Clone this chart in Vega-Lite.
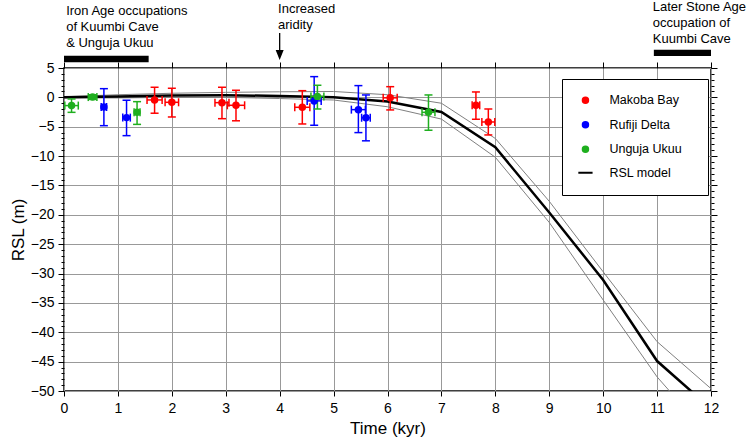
{
  "$schema": "https://vega.github.io/schema/vega-lite/v6.json",
  "width": 647,
  "height": 323,
  "autosize": {"type": "none"},
  "padding": {"left": 64, "top": 68, "right": 39, "bottom": 51},
  "background": "white",
  "config": {
    "view": {"stroke": "black", "strokeWidth": 1.5},
    "font": "Liberation Sans",
    "axis": {
      "labelFont": "Liberation Sans",
      "titleFont": "Liberation Sans",
      "labelColor": "black",
      "titleColor": "black",
      "tickColor": "black",
      "tickWidth": 1,
      "domain": false,
      "labelFontSize": 14,
      "titleFontSize": 17,
      "titleFontWeight": "normal",
      "gridColor": "#999999",
      "gridWidth": 1,
      "format": "d",
      "tickCount": 100
    }
  },
  "datasets": {
    "obs": [
      {"site": "Makoba Bay", "t": 1.68, "y": -0.44, "tlo": 1.54, "thi": 1.82, "ylo": -2.7, "yhi": 1.72},
      {"site": "Makoba Bay", "t": 2.0, "y": -0.84, "tlo": 1.875, "thi": 2.125, "ylo": -3.34, "yhi": 1.55},
      {"site": "Makoba Bay", "t": 2.93, "y": -0.9, "tlo": 2.8, "thi": 3.06, "ylo": -3.63, "yhi": 1.72},
      {"site": "Makoba Bay", "t": 3.19, "y": -1.35, "tlo": 3.03, "thi": 3.35, "ylo": -3.99, "yhi": 1.21},
      {"site": "Makoba Bay", "t": 4.42, "y": -1.69, "tlo": 4.28, "thi": 4.56, "ylo": -4.53, "yhi": 1.14},
      {"site": "Makoba Bay", "t": 6.05, "y": -0.08, "tlo": 5.92, "thi": 6.18, "ylo": -2.14, "yhi": 1.82},
      {"site": "Makoba Bay", "t": 7.64, "y": -1.35, "tlo": 7.57, "thi": 7.71, "ylo": -3.73, "yhi": 0.92},
      {"site": "Makoba Bay", "t": 7.87, "y": -4.19, "tlo": 7.75, "thi": 7.99, "ylo": -6.4, "yhi": -1.98},
      {"site": "Rufiji Delta", "t": 0.74, "y": -1.64, "tlo": 0.69, "thi": 0.79, "ylo": -4.82, "yhi": 1.48},
      {"site": "Rufiji Delta", "t": 1.16, "y": -3.45, "tlo": 1.09, "thi": 1.23, "ylo": -6.52, "yhi": -0.49},
      {"site": "Rufiji Delta", "t": 4.64, "y": -0.6, "tlo": 4.51, "thi": 4.77, "ylo": -4.75, "yhi": 3.53},
      {"site": "Rufiji Delta", "t": 5.46, "y": -2.09, "tlo": 5.33, "thi": 5.59, "ylo": -6.0, "yhi": 2.0},
      {"site": "Rufiji Delta", "t": 5.6, "y": -3.47, "tlo": 5.52, "thi": 5.68, "ylo": -7.4, "yhi": 0.41},
      {"site": "Unguja Ukuu", "t": 0.14, "y": -1.4, "tlo": 0.015, "thi": 0.265, "ylo": -2.55, "yhi": -0.27},
      {"site": "Unguja Ukuu", "t": 0.53, "y": 0.05, "tlo": 0.45, "thi": 0.61, "ylo": -0.35, "yhi": 0.45},
      {"site": "Unguja Ukuu", "t": 1.355, "y": -2.55, "tlo": 1.3, "thi": 1.41, "ylo": -4.6, "yhi": -0.73},
      {"site": "Unguja Ukuu", "t": 4.7, "y": 0.15, "tlo": 4.58, "thi": 4.82, "ylo": -1.98, "yhi": 2.06},
      {"site": "Unguja Ukuu", "t": 6.76, "y": -2.55, "tlo": 6.64, "thi": 6.88, "ylo": -5.6, "yhi": 0.41}
    ],
    "rsl": [
      {"t": 0, "model": 0.0, "upper": 0.1, "lower": -0.1},
      {"t": 1, "model": 0.15, "upper": 0.45, "lower": -0.1},
      {"t": 2, "model": 0.3, "upper": 0.7, "lower": 0.0},
      {"t": 3, "model": 0.35, "upper": 0.85, "lower": 0.0},
      {"t": 4, "model": 0.25, "upper": 0.95, "lower": -0.2},
      {"t": 5, "model": 0.0, "upper": 1.0, "lower": -0.45},
      {"t": 6, "model": -0.7, "upper": 0.45, "lower": -1.6},
      {"t": 7, "model": -2.5, "upper": -1.0, "lower": -3.7},
      {"t": 8, "model": -8.5, "upper": -7.0, "lower": -10.2},
      {"t": 9, "model": -19.6, "upper": -17.7, "lower": -21.3},
      {"t": 10, "model": -31.1, "upper": -29.7, "lower": -34.5},
      {"t": 11, "model": -44.9, "upper": -41.6, "lower": -47.6},
      {"t": 12, "model": -53.0, "upper": -49.6, "lower": -58.0}
    ],
    "bars": [
      {"t1": 0, "t2": 1.57, "yb": 6.53},
      {"t1": 10.94, "t2": 12, "yb": 7.56}
    ],
    "arrow": [
      {"t": 4, "y1": 10.96, "y2": 7.73, "yh": 7.21}
    ],
    "notes": [
      {"t": 0.04, "y": 14.1, "label": "Iron Age occupations\nof Kuumbi Cave\n& Unguja Ukuu"},
      {"t": 3.97, "y": 14.42, "label": "Increased\naridity"},
      {"t": 10.92, "y": 14.76, "label": "Later Stone Age\noccupation of\nKuumbi Cave"}
    ]
  },
  "layer": [
    {
      "layer": [
        {
          "data": {"name": "rsl"},
          "mark": {"type": "line", "color": "#808080", "strokeWidth": 1, "clip": true},
          "encoding": {
            "x": {
              "field": "t", "type": "quantitative",
              "scale": {"domain": [0, 12], "nice": false, "zero": false},
              "axis": {
                "orient": "top",
                "values": [0, 1, 2, 3, 4, 5, 6, 7, 8, 9, 10, 11, 12],
                "tickCount": 100,
                "labels": false,
                "grid": false,
                "tickSize": 6,
                "title": null
              }
            },
            "y": {
              "field": "upper", "type": "quantitative",
              "scale": {"domain": [-50, 5], "nice": false, "zero": false},
              "axis": {
                "orient": "right",
                "values": [5, 0, -5, -10, -15, -20, -25, -30, -35, -40, -45, -50],
                "tickCount": 100,
                "labels": false,
                "grid": false,
                "tickSize": 6,
                "title": null
              }
            }
          }
        },
        {
          "data": {"name": "rsl"},
          "mark": {"type": "line", "color": "#808080", "strokeWidth": 1, "clip": true},
          "encoding": {
            "x": {"field": "t", "type": "quantitative"},
            "y": {"field": "lower", "type": "quantitative"}
          }
        },
        {
          "data": {"name": "rsl"},
          "mark": {"type": "line", "color": "#000000", "strokeWidth": 2.5, "clip": true},
          "encoding": {
            "x": {"field": "t", "type": "quantitative"},
            "y": {"field": "model", "type": "quantitative"}
          }
        },
        {
          "data": {"name": "bars"},
          "mark": {"type": "rule", "color": "black", "strokeWidth": 6.3, "strokeCap": "butt"},
          "encoding": {
            "x": {"field": "t1", "type": "quantitative"},
            "x2": {"field": "t2"},
            "y": {"field": "yb", "type": "quantitative"}
          }
        },
        {
          "data": {"name": "arrow"},
          "mark": {"type": "rule", "color": "black", "strokeWidth": 1.3},
          "encoding": {
            "x": {"field": "t", "type": "quantitative"},
            "y": {"field": "y1", "type": "quantitative"},
            "y2": {"field": "y2"}
          }
        },
        {
          "data": {"name": "arrow"},
          "mark": {"type": "point", "shape": "M-0.8,-1L0,1L0.8,-1Z", "size": 100, "filled": true, "color": "black", "opacity": 1},
          "encoding": {
            "x": {"field": "t", "type": "quantitative"},
            "y": {"field": "yh", "type": "quantitative"}
          }
        },
        {
          "data": {"name": "notes"},
          "mark": {"type": "text", "align": "left", "baseline": "alphabetic", "fontSize": 13, "lineHeight": 16, "lineBreak": "\n", "font": "Liberation Sans", "color": "black"},
          "encoding": {
            "x": {"field": "t", "type": "quantitative"},
            "y": {"field": "y", "type": "quantitative"},
            "text": {"field": "label"}
          }
        }
      ]
    },
    {
      "data": {"name": "obs"},
      "layer": [
        {
          "mark": {"type": "rule", "strokeWidth": 1.5},
          "encoding": {
            "x": {
              "field": "t", "type": "quantitative",
              "axis": {
                "orient": "bottom",
                "values": [0, 1, 2, 3, 4, 5, 6, 7, 8, 9, 10, 11, 12],
                "tickCount": 100,
                "title": "Time (kyr)",
                "grid": true,
                "tickSize": 5,
                "labelPadding": 5,
                "labelFlush": false,
                "labelOverlap": false,
                "format": "d",
                "titlePadding": 5
              }
            },
            "y": {
              "field": "ylo", "type": "quantitative",
              "axis": {
                "orient": "left",
                "values": [5, 0, -5, -10, -15, -20, -25, -30, -35, -40, -45, -50],
                "tickCount": 100,
                "title": "RSL (m)",
                "grid": true,
                "tickSize": 6,
                "labelPadding": 4,
                "labelFlush": false,
                "labelOverlap": false,
                "format": "d",
                "titlePadding": 3
              }
            },
            "y2": {"field": "yhi"},
            "stroke": {
              "field": "site", "type": "nominal",
              "scale": {"domain": ["Makoba Bay", "Rufiji Delta", "Unguja Ukuu"], "range": ["#ff0000", "#0000ff", "#1faf1f"]},
              "legend": null
            }
          }
        },
        {
          "transform": [{"fold": ["tlo", "thi"], "as": ["k", "v"]}],
          "mark": {"type": "point", "shape": "stroke", "size": 64, "angle": 90, "strokeWidth": 1.5, "filled": false, "opacity": 1},
          "encoding": {
            "x": {"field": "v", "type": "quantitative"},
            "y": {"field": "y", "type": "quantitative"},
            "stroke": {"field": "site", "type": "nominal", "legend": null}
          }
        },
        {
          "mark": {"type": "point", "filled": false, "strokeWidth": 2, "size": 30, "opacity": 1},
          "encoding": {
            "x": {"field": "t", "type": "quantitative"},
            "y": {"field": "y", "type": "quantitative"},
            "color": {
              "field": "site", "type": "nominal",
              "scale": {"domain": ["Makoba Bay", "Rufiji Delta", "Unguja Ukuu", "RSL model"], "range": ["#ff0000", "#0000ff", "#1faf1f", "#000000"]},
              "legend": {
                "orient": "none",
                "legendX": 498,
                "legendY": 11,
                "title": null,
                "padding": 15,
                "rowPadding": 10.5,
                "labelOffset": 17.7,
                "symbolOffset": 2.2,
                "labelFont": "Liberation Sans",
                "labelFontSize": 12.5,
                "labelColor": "black",
                "fillColor": "white",
                "strokeColor": "black",
                "symbolSize": 30,
                "symbolStrokeWidth": 2,
                "labelExpr": "datum.label + '   \u200b'"
              }
            },
            "fill": {
              "field": "site", "type": "nominal",
              "scale": {"domain": ["Makoba Bay", "Rufiji Delta", "Unguja Ukuu", "RSL model"], "range": ["#ff0000", "#0000ff", "#1faf1f", "#000000"]},
              "legend": {"orient": "none", "legendX": 498, "legendY": 11, "title": null}
            },
            "shape": {
              "field": "site", "type": "nominal",
              "scale": {"domain": ["Makoba Bay", "Rufiji Delta", "Unguja Ukuu", "RSL model"], "range": ["circle", "circle", "circle", "M-2.6,0H2.6"]},
              "legend": {"orient": "none", "legendX": 498, "legendY": 11, "title": null}
            }
          }
        }
      ]
    },
    {
      "data": {"name": "obs"},
      "mark": {"type": "rule", "strokeWidth": 1.5},
      "encoding": {
        "x": {"field": "tlo", "type": "quantitative", "axis": null},
        "x2": {"field": "thi"},
        "y": {
          "field": "y", "type": "quantitative",
          "axis": {
            "orient": "left",
            "values": [4, 3, 2, 1, -1, -2, -3, -4, -6, -7, -8, -9, -11, -12, -13, -14, -16, -17, -18, -19, -21, -22, -23, -24, -26, -27, -28, -29, -31, -32, -33, -34, -36, -37, -38, -39, -41, -42, -43, -44, -46, -47, -48, -49],
            "tickCount": 100,
            "labels": false,
            "grid": false,
            "tickSize": 3,
            "title": null
          }
        },
        "stroke": {"field": "site", "type": "nominal", "legend": null}
      }
    },
    {
      "data": {"name": "obs"},
      "transform": [{"fold": ["ylo", "yhi"], "as": ["k", "v"]}],
      "mark": {"type": "point", "shape": "stroke", "size": 64, "strokeWidth": 1.5, "filled": false, "opacity": 1},
      "encoding": {
        "x": {"field": "t", "type": "quantitative", "axis": null},
        "y": {
          "field": "v", "type": "quantitative",
          "axis": {
            "orient": "right",
            "values": [4, 3, 2, 1, -1, -2, -3, -4, -6, -7, -8, -9, -11, -12, -13, -14, -16, -17, -18, -19, -21, -22, -23, -24, -26, -27, -28, -29, -31, -32, -33, -34, -36, -37, -38, -39, -41, -42, -43, -44, -46, -47, -48, -49],
            "tickCount": 100,
            "labels": false,
            "grid": false,
            "tickSize": 3,
            "title": null
          }
        },
        "stroke": {"field": "site", "type": "nominal", "legend": null}
      }
    }
  ],
  "resolve": {"axis": {"x": "independent", "y": "independent"}, "scale": {"x": "shared", "y": "shared"}}
}
